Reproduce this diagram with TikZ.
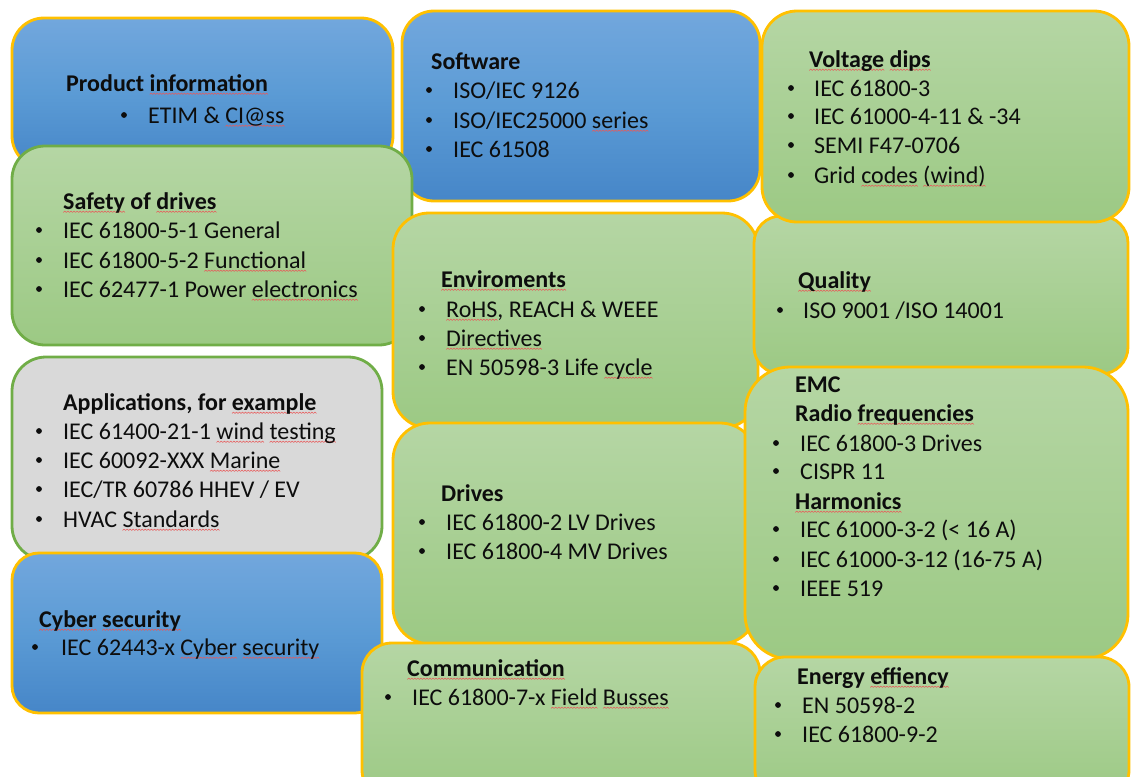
\documentclass[tikz,border=0pt]{standalone}
\usepackage{fontspec}
\setmainfont{Carlito}

\definecolor{gold}{HTML}{FFC000}
\definecolor{leaf}{HTML}{70AD47}
\definecolor{blueT}{HTML}{72A7DD}
\definecolor{blueM}{HTML}{5B9BD5}
\definecolor{blueB}{HTML}{4686C8}
\definecolor{greenT}{HTML}{B5D6A4}
\definecolor{greenB}{HTML}{9CC984}
\definecolor{greyF}{HTML}{D9D9D9}
\definecolor{ink}{HTML}{0D0D0D}
\definecolor{squig}{HTML}{E85A5A}

% red wavy spell-check underline under a word
\newsavebox\sqbox
\newcommand\wavelet{\tikz[x=1pt,y=1pt,baseline=0pt]{\useasboundingbox (0,0) rectangle (3,1.4);\draw[squig,line width=0.55pt,line join=round] (0,0)--(1.5,1.3)--(3,0);}}
\newcommand\sq[1]{\sbox\sqbox{#1}\rlap{\raisebox{-3.4pt}[0pt][0pt]{\hbox to\wd\sqbox{\xleaders\hbox{\wavelet}\hfill}}}\usebox\sqbox}

% bullet item: name, bullet x, text x, baseline y, text
\newcommand\bul[5]{%
  \node[bdot] (#1-d) at (#2,#4-8) {};
  \node[txt]  (#1)   at (#3,#4) {#5};}

\tikzset{
  card/.style={rounded corners=#1, line width=2.8pt},
  bluecard/.style={card=#1, draw=gold, top color=blueT, bottom color=blueB, middle color=blueM},
  greencard/.style={card=#1, draw=gold, top color=greenT, bottom color=greenB},
  leafcard/.style={card=#1, draw=leaf, top color=greenT, bottom color=greenB},
  greycard/.style={card=#1, draw=leaf, fill=greyF},
  txt/.style={anchor=base west, inner sep=0pt, text=ink, font=\fontsize{24}{29}\selectfont},
  hd/.style={txt, font=\fontsize{24}{29}\selectfont\bfseries},
  bdot/.style={circle, fill=ink, inner sep=0pt, minimum size=5.8pt},
}

\begin{document}
\begin{tikzpicture}[x=1pt,y=-1pt]
\useasboundingbox (0,0) rectangle (1131,776);
\clip (0,0) rectangle (1131,776);

% Software
\draw[bluecard=32pt] (402,11) rectangle (760,201);
\node[hd] (sw-h) at (431,69) {Software};
\bul{sw-1}{429}{453}{98}{ISO/IEC 9126}
\bul{sw-2}{429}{453}{128}{ISO/IEC25000 \sq{series}}
\bul{sw-3}{429}{453}{157}{IEC 61508}

% Product information
\draw[bluecard=32pt] (12,18) rectangle (393,168);
\node[hd] (pi-h) at (66,91) {Product \sq{information}};
\bul{pi-1}{124}{148}{123}{ETIM \& \sq{CI@ss}}

% Safety of drives
\draw[leafcard=33pt] (12,146) rectangle (412,345);
\node[hd] (sd-h) at (63,209) {\sq{Safety} of \sq{drives}};
\bul{sd-1}{39}{63}{238}{IEC 61800-5-1 General}
\bul{sd-2}{39}{63}{268}{IEC 61800-5-2 \sq{Functional}}
\bul{sd-3}{39}{63}{297}{IEC 62477-1 Power \sq{electronics}}

% Enviroments
\draw[greencard=36pt] (393,213) rectangle (758,428);
\node[hd] (en-h) at (441,287) {\sq{Enviroments}};
\bul{en-1}{422}{446}{317}{\sq{RoHS}, REACH \& WEEE}
\bul{en-2}{422}{446}{346}{\sq{Directives}}
\bul{en-3}{422}{446}{375}{EN 50598-3 Life \sq{cycle}}

% Drives
\draw[greencard=37pt] (393,423) rectangle (757,644);
\node[hd] (dr-h) at (441,501) {Drives};
\bul{dr-1}{422}{446}{530}{IEC 61800-2 LV Drives}
\bul{dr-2}{422}{446}{559}{IEC 61800-4 MV Drives}

% Applications
\draw[greycard=34pt] (12,357) rectangle (382,560);
\node[hd] (ap-h) at (63,410) {Applications, for \sq{example}};
\bul{ap-1}{39}{63}{439}{IEC 61400-21-1 \sq{wind} \sq{testing}}
\bul{ap-2}{39}{63}{468}{IEC 60092-XXX \sq{Marine}}
\bul{ap-3}{39}{63}{497}{IEC/TR 60786 HHEV / EV}
\bul{ap-4}{39}{63}{527}{HVAC \sq{Standards}}

% Cyber security
\draw[bluecard=27pt] (12,553) rectangle (382,713);
\node[hd] (cy-h) at (39,627) {\sq{Cyber} \sq{security}};
\bul{cy-1}{35}{61}{655}{IEC 62443-x \sq{Cyber} \sq{security}}

% Communication
\draw[greencard=30pt] (362,643) rectangle (760,800);
\node[hd] (co-h) at (407,676) {\sq{Communication}};
\bul{co-1}{388}{412}{705}{IEC 61800-7-x \sq{Field} \sq{Busses}}

% Quality
\draw[greencard=27pt] (754,216) rectangle (1128,374);
\node[hd] (qu-h) at (798,288) {\sq{Quality}};
\bul{qu-1}{780}{803}{318}{ISO 9001 /ISO 14001}

% Voltage dips
\draw[greencard=35pt] (762,11) rectangle (1129,222);
\node[hd] (vd-h) at (809,67) {\sq{Voltage} \sq{dips}};
\bul{vd-1}{791}{814}{96}{IEC 61800-3}
\bul{vd-2}{791}{814}{124}{IEC 61000-4-11 \& -34}
\bul{vd-3}{791}{814}{153}{SEMI F47-0706}
\bul{vd-4}{791}{814}{183}{Grid \sq{codes} \sq{(wind)}}

% EMC
\draw[greencard=45pt] (745,367) rectangle (1128,659);
\node[hd] (emc-h) at (795,392) {EMC};
\node[hd] (emc-r) at (795,421) {Radio \sq{frequencies}};
\bul{emc-1}{776}{800}{451}{IEC 61800-3 Drives}
\bul{emc-2}{776}{800}{479}{CISPR 11}
\node[hd] (emc-hm) at (795,509) {\sq{Harmonics}};
\bul{emc-3}{776}{800}{537}{IEC 61000-3-2 (< 16 A)}
\bul{emc-4}{776}{800}{567}{IEC 61000-3-12 (16-75 A)}
\bul{emc-5}{776}{800}{596}{IEEE 519}

% Energy effiency
\draw[greencard=30pt] (755,657) rectangle (1129,800);
\node[hd] (ee-h) at (797,684) {Energy \sq{effiency}};
\bul{ee-1}{778}{802}{713}{EN 50598-2}
\bul{ee-2}{778}{802}{742}{IEC 61800-9-2}
\end{tikzpicture}
\end{document}
